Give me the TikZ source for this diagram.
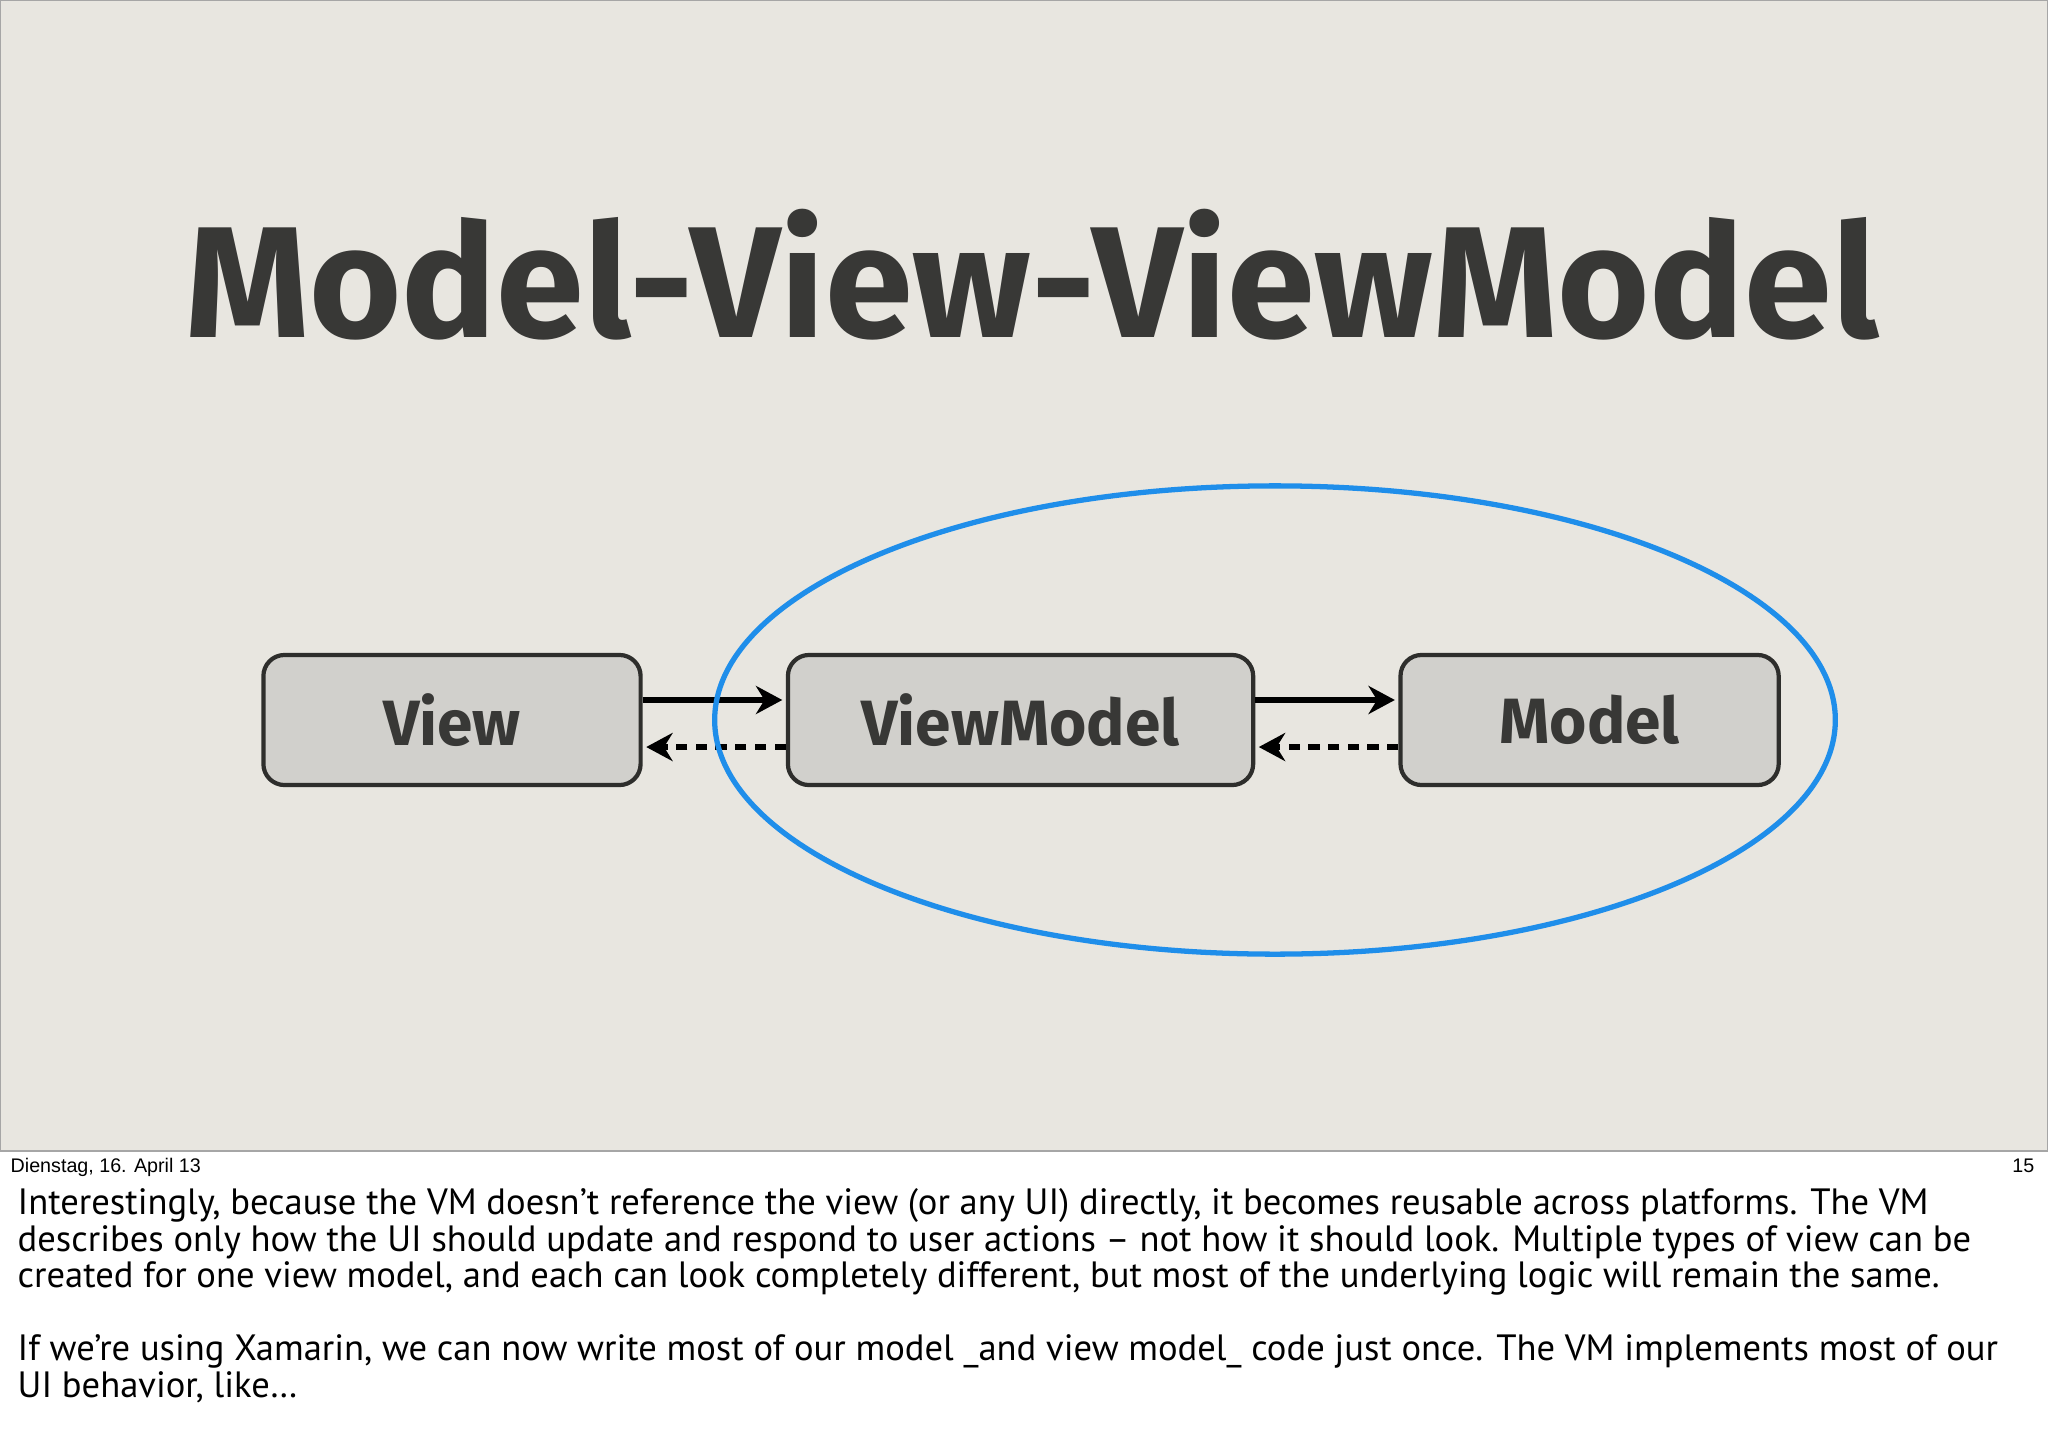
\documentclass[tikz,border=0pt]{standalone}
\usepackage{fontspec}
\setmainfont{PT Sans}
\newfontfamily\titlefont{Fira Sans}
\newfontfamily\datefont{Liberation Sans}
\usetikzlibrary{positioning, arrows.meta}

\definecolor{slidebg}{HTML}{E8E6E0}
\definecolor{boxfill}{HTML}{D1D0CC}
\definecolor{boxline}{HTML}{2E2E2C}
\definecolor{inkgray}{HTML}{383836}
\definecolor{crayon}{HTML}{1F8EEA}

\begin{document}
\begin{tikzpicture}[x=0.01cm,y=-0.01cm,node distance=1.43cm,
	layer/.style={draw=boxline,line width=1.2pt,fill=boxfill,rounded corners=6pt,
		minimum height=1.3cm,inner sep=0pt,text=inkgray,
		font=\titlefont\bfseries\fontsize{18.2}{19}\selectfont},
	call/.style={-{Stealth[length=7.5pt,width=8pt]},line width=1.5pt,shorten >=1pt},
	notify/.style={call,dash pattern=on 3.2pt off 2.4pt},
	note/.style={anchor=base west,inner sep=0pt,font=\fontsize{10.4}{12}\selectfont}]
	\useasboundingbox (0,0) rectangle (2048,1442);
	\fill[white] (0,0) rectangle (2048,1442);
	\filldraw[fill=slidebg,draw=gray!70,line width=0.4pt] (0,0) rectangle (2048,1151);

	% title
	\node[anchor=base,inner sep=0pt,text=inkgray,font=\titlefont\bfseries\fontsize{45}{45}\selectfont]
		(title) at (1032,337) {Model-View-ViewModel};

	% the three layers
	\node[layer,minimum width=3.77cm] (view) at (452,720) {View};
	\node[layer,minimum width=4.65cm] (vm) [right=of view] {ViewModel};
	\node[layer,minimum width=3.78cm] (model) [right=of vm] {Model};

	\draw[call] ([yshift=0.2cm]view.east) -- ([yshift=0.2cm]vm.west);
	\draw[notify] ([yshift=-0.27cm]vm.west) -- ([yshift=-0.27cm]view.east);
	\draw[call] ([yshift=0.2cm]vm.east) -- ([yshift=0.2cm]model.west);
	\draw[notify] ([yshift=-0.27cm]model.west) -- ([yshift=-0.27cm]vm.east);

	% shared part
	\draw[crayon,line width=1.5pt] (1275,720) ellipse [x radius=5.6cm,y radius=2.34cm];

	% footer
	\node[anchor=base west,inner sep=0pt,font=\datefont\fontsize{5.6}{7}\selectfont]
		(date) at (10,1172) {Dienstag, 16. April 13};
	\node[anchor=base east,inner sep=0pt,font=\datefont\fontsize{5.6}{7}\selectfont]
		(page) at (2035,1172) {15};

	% speaker notes
	\node[note] (n1) at (17,1214) {Interestingly, because the VM doesn’t reference the view (or any UI) directly, it becomes reusable across platforms. The VM};
	\node[note] (n2) at (17,1251) {describes only how the UI should update and respond to user actions – not how it should look. Multiple types of view can be};
	\node[note] (n3) at (17,1287) {created for one view model, and each can look completely different, but most of the underlying logic will remain the same.};
	\node[note] (n4) at (17,1360) {If we’re using Xamarin, we can now write most of our model \_and view model\_ code just once. The VM implements most of our};
	\node[note] (n5) at (17,1397) {UI behavior, like…};
\end{tikzpicture}
\end{document}
